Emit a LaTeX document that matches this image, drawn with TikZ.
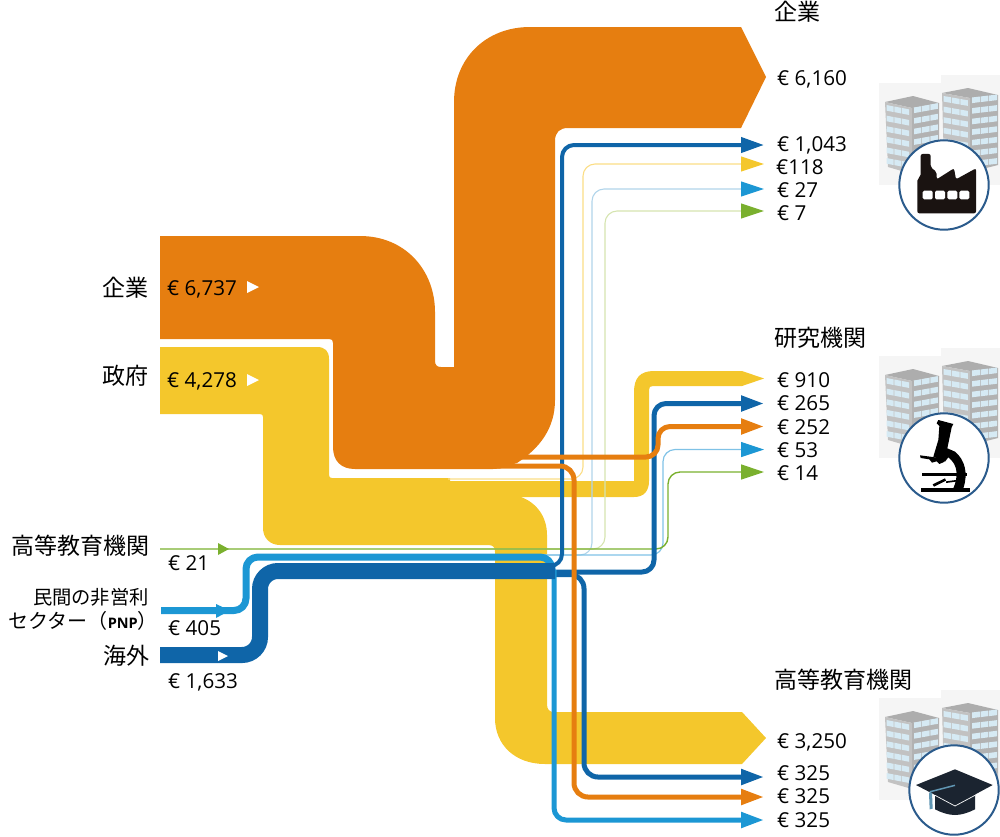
\documentclass[tikz,border=0pt]{standalone}
\usepackage{fontspec}
\setmainfont{Open Sans}
\newfontfamily\cjk{Noto Sans CJK JP}
\usetikzlibrary{arrows.meta}
\definecolor{cOrange}{HTML}{E67E10}
\definecolor{cYellow}{HTML}{F4C72C}
\definecolor{cDark}{HTML}{0F65A8}
\definecolor{cLight}{HTML}{1C97D4}
\definecolor{cGreen}{HTML}{7AB02E}
\definecolor{paleYellow}{HTML}{FBDD85}
\definecolor{paleBlue}{HTML}{B0D4EA}
\definecolor{paleGreen}{HTML}{D5E4AF}
\definecolor{midBlue}{HTML}{7FC2E6}
\definecolor{ring}{HTML}{2B5B8C}
\definecolor{capInk}{HTML}{1B2430}
\definecolor{factInk}{HTML}{1A1311}
\definecolor{winBlue}{HTML}{D6EAF4}
\definecolor{bldFront}{HTML}{C2C2C2}
\definecolor{bldRoof}{HTML}{ADADAD}
\tikzset{
  val/.style={anchor=base west,yshift=-7.5pt,inner sep=0pt,font=\fontsize{20.6}{23}\selectfont,text=black},
  jpl/.style={anchor=east,inner sep=0pt,font=\cjk\fontsize{23}{25}\selectfont,text=black},
  jpr/.style={anchor=west,inner sep=0pt,font=\cjk\fontsize{23}{25}\selectfont,text=black},
  jps/.style={anchor=east,inner sep=0pt,font=\cjk\fontsize{19.3}{21}\selectfont,text=black},
  flow/.style={line join=round,rounded corners=#1},
  head/.style={-{Triangle[length=23pt,width=15pt,color=#1]}},
  iconring/.style={draw=ring,line width=2pt,fill=white},
  pics/bldg/.style={code={
    \fill[black!4] (879,83) rectangle (942,185);
    \fill[black!4] (941,75) rectangle (1000,185);
    % left building
    \fill[bldRoof] (885,102)--(913,96)--(939,103)--(912,108)--cycle;
    \fill[bldFront] (885,102)--(912,108)--(912,174)--(888,167)--cycle;
    \fill[bldFront!92!black] (912,108)--(939,103)--(939,168)--(912,174)--cycle;
    \foreach \r in {0,...,5}{
      \foreach \c in {0,1,2}{
        \fill[winBlue] ({886.5+\c*7.8},{105+\r*10.6+\c*1.5}) -- ++(7,1.4) -- ++(0,5.6) -- ++(-7,-1.4) -- cycle;
        \fill[winBlue] ({914+\c*8.2},{107.5+\r*10.6-\c*1.5}) -- ++(7.4,-1.3) -- ++(0,5.6) -- ++(-7.4,1.3) -- cycle;
      }
    }
    % right building
    \fill[bldRoof] (942,93)--(968,88)--(998,95)--(970,98)--cycle;
    \fill[bldFront] (942,93)--(970,98)--(970,172)--(944,165)--cycle;
    \fill[bldFront!92!black] (970,98)--(998,95)--(998,165)--(970,172)--cycle;
    \foreach \r in {0,...,6}{
      \foreach \c in {0,1,2}{
        \fill[winBlue] ({943.5+\c*8.4},{96+\r*10.6+\c*1.5}) -- ++(7.6,1.3) -- ++(0,5.6) -- ++(-7.6,-1.3) -- cycle;
        \fill[winBlue] ({972+\c*8.6},{97.5+\r*10.6-\c*1}) -- ++(7.8,-1) -- ++(0,5.6) -- ++(-7.8,1) -- cycle;
      }
    }
  }}
}
\begin{document}
\begin{tikzpicture}[x=1pt,y=-1pt]
\useasboundingbox (0,0) rectangle (1000,836);

% ---- named ports
\coordinate (sBiz)  at (160,287);
\coordinate (sGov)  at (160,380);
\coordinate (sHE)   at (160,549);
\coordinate (sPNP)  at (161,610.5);
\coordinate (sFor)  at (160,655);
\coordinate (eBizD) at (764,145);
\coordinate (eBizY) at (764,164);
\coordinate (eBizL) at (764,189);
\coordinate (eBizG) at (764,211);
\coordinate (eResD) at (764,403.5);
\coordinate (eResO) at (764,426.5);
\coordinate (eResL) at (764,449.5);
\coordinate (eResG) at (764,472);
\coordinate (eHeD)  at (764,777);
\coordinate (eHeO)  at (764,797);
\coordinate (eHeL)  at (764,820);

% ---- main yellow flow
\fill[cYellow]
  (160,347) -- (317,347) .. controls (325,347) and (329,351) .. (329,359)
  -- (329,475) .. controls (329,477) and (330,478) .. (332,478)
  -- (450,478) -- (450,497) -- (521,497)
  .. controls (537,503) and (547,517) .. (547,535)
  -- (547,704) .. controls (547,709) and (549,712) .. (554,712)
  -- (742,712) -- (766,738) -- (742,764) -- (545,764)
  .. controls (515,764) and (495,745) .. (495,718)
  -- (495,552) .. controls (495,547) and (493,545) .. (488,545)
  -- (280,545) .. controls (270,545) and (263,538) .. (263,528)
  -- (263,417) .. controls (263,415) and (262,414) .. (260,414)
  -- (160,414) -- cycle;
% yellow branch to research institutes
\fill[cYellow]
  (440,481) -- (634,481) -- (634,392) .. controls (634,378) and (640,371) .. (654,371)
  -- (742,371) -- (764,378.5) -- (742,386) -- (653,386)
  .. controls (650,386) and (649,387) .. (649,390)
  -- (649,481) .. controls (649,491) and (644,497) .. (634,497)
  -- (440,497) -- cycle;

% ---- main orange flow
\fill[cOrange]
  (160,236) -- (360,236) .. controls (405,236) and (435,270) .. (435,312)
  -- (435,361) .. controls (435,365) and (437,367) .. (441,367)
  -- (454,367) -- (454,102) .. controls (454,58) and (486,27) .. (530,27)
  -- (741,27) -- (766,77) -- (741,128) -- (568,128)
  .. controls (560,128) and (555,132) .. (555,141)
  -- (555,400) .. controls (555,428) and (540,448) .. (517,463)
  -- (500,468.5) -- (493,469) -- (355,469) .. controls (341,469) and (333,461) .. (333,447)
  -- (333,343) .. controls (333,340) and (332,339) .. (329,339)
  -- (160,339) -- cycle;

% ---- thin pale connectors
\draw[paleYellow,line width=1.1pt,flow=12pt,head=cYellow] (448,479) -- (583,479) -- (583,164) -- (eBizY);
\draw[paleBlue,line width=1.1pt,flow=12pt,head=cLight] (540,555) -- (592,555) -- (592,189) -- (eBizL);
\draw[paleGreen,line width=1.1pt,flow=12pt,head=cGreen] (450,549) -- (605,549) -- (605,211) -- (eBizG);
\draw[midBlue,line width=1.2pt,flow=12pt,head=cLight] (540,555) -- (663,555) -- (663,449.5) -- (eResL);
\draw[cGreen,line width=1.4pt,flow=12pt,head=cGreen] (sHE) -- (668,549) -- (668,472) -- (eResG);
\fill[cGreen] (218,543) -- (229,549) -- (218,555) -- cycle;

% ---- dark blue flows
\draw[cDark,line width=4pt,flow=12pt,head=cDark] (545,566) -- (562,566) -- (562,145) -- (eBizD);
\draw[cDark,line width=5pt,flow=12pt,head=cDark] (545,572) -- (654,572) -- (654,403.5) -- (eResD);
\draw[cDark,line width=5pt,flow=14pt,head=cDark] (545,574.5) -- (584,574.5) -- (584,777) -- (eHeD);

% ---- light blue flow
\draw[cLight,line width=7pt,flow=12pt] (sPNP) -- (246,610.5) -- (246,557) -- (552,557) -- (552,578);
\draw[cLight,line width=5pt,flow=12pt,head=cLight] (554,570) -- (554,820) -- (eHeL);
\fill[cLight] (216,604) -- (230,610.5) -- (216,618) -- cycle;

% ---- thick dark blue
\draw[cDark,line width=16pt,flow=18pt,line join=miter] (sFor) -- (260,655) -- (260,571) -- (555,571);

% ---- orange strands
\draw[cOrange,line width=5pt,flow=12pt,head=cOrange] (515,457) -- (658,457) -- (658,426.5) -- (eResO);
\draw[cOrange,line width=5pt,flow=14pt,head=cOrange] (495,466) -- (574,466) -- (574,797) -- (eHeO);

% ---- white marks on bands
\fill[white] (247,281) -- (259,287) -- (247,293) -- cycle;
\fill[white] (247,374) -- (259,380) -- (247,386) -- cycle;
\fill[white] (218,651) -- (228,656) -- (218,661) -- cycle;

% ---- left labels
\node[jpl] (lBiz) at (149,288) {企業};
\node[jpl] (lGov) at (149,376) {政府};
\node[jpl] (lHE)  at (150,546) {高等教育機関};
\node[jps] (lPNP1) at (149,597) {民間の非営利};
\node[jps,font=\cjk\fontsize{20}{22}\selectfont] (lPNP2) at (158,621) {セクター（{\rmfamily\bfseries\fontsize{14.5}{16}\selectfont PNP}）};
\node[jpl] (lFor) at (150,656) {海外};
\node[val] (vBiz) at (167,288) {€ 6,737};
\node[val] (vGov) at (167,380) {€ 4,278};
\node[val] (vHE)  at (168,563) {€ 21};
\node[val] (vPNP) at (168,628) {€ 405};
\node[val] (vFor) at (168,681) {€ 1,633};

% ---- right labels
\node[jpr] (rBiz) at (774,12) {企業};
\node[val] (v1) at (777,78) {€ 6,160};
\node[val] (v2) at (777,144) {€ 1,043};
\node[val] (v3) at (776,167) {€118};
\node[val] (v4) at (777,190) {€ 27};
\node[val] (v5) at (777,213) {€ 7};
\node[jpr] (rRes) at (774,338) {研究機関};
\node[val] (v6) at (777,380) {€ 910};
\node[val] (v7) at (777,403) {€ 265};
\node[val] (v8) at (777,427) {€ 252};
\node[val] (v9) at (777,450) {€ 53};
\node[val] (v10) at (777,473) {€ 14};
\node[jpr] (rHE) at (774,680) {高等教育機関};
\node[val] (v11) at (777,741) {€ 3,250};
\node[val] (v12) at (777,773) {€ 325};
\node[val] (v13) at (777,796) {€ 325};
\node[val] (v14) at (777,820) {€ 325};

% ---- icons
\pic at (0,0) {bldg};
\pic at (0,273) {bldg};
\pic at (0,615) {bldg};

% factory
\draw[iconring] (944,185) circle (44.7);
\begin{scope}[shift={(870,70)},x=0.3333pt,y=-0.3333pt]
  \fill[factInk,rounded corners=2pt] (142,430) -- (142,326) -- (152,320) -- (152,252) -- (182,252) -- (182,292) -- (200,306) -- (200,328) -- (252,295) -- (258,328) -- (318,295) -- (318,430) -- cycle;
  \foreach \a in {158,195,232,268}
    \fill[white,rounded corners=1.5pt] (\a,362) rectangle ++(30,26);
\end{scope}

% microscope
\draw[iconring] (944,458) circle (44.7);
\begin{scope}[shift={(870,340)},x=0.3333pt,y=-0.3333pt]
  \fill[black] (205,240) -- (250,252) -- (245,262) -- (232,325) -- (255,335) .. controls (285,360) and (295,400) .. (280,445) -- (250,445) .. controls (265,410) and (265,375) .. (235,352) -- (225,365) -- (190,350) -- (205,300) -- (208,258) -- (200,250) -- cycle;
  \fill[black] (150,346) -- (225,356) -- (222,366) -- (208,372) -- (200,364) -- (186,368) -- (178,358) -- (152,354) -- cycle;
  \fill[black] (155,398) rectangle (262,408);
  \fill[black] (152,445) rectangle (300,455);
  \fill[black] (188,433) -- (225,415) -- (228,422) -- (192,440) -- cycle;
  \fill[black] (262,398) rectangle (290,408);
  \fill[black] (228,424) -- (258,420) -- (258,425) -- (228,429) -- cycle;
\end{scope}

% mortarboard
\draw[iconring] (954,790) circle (44.7);
\begin{scope}[shift={(870,680)},x=0.3333pt,y=-0.3333pt]
  \fill[capInk] (195,340) -- (315,340) -- (315,388) .. controls (295,398) and (275,405) .. (255,405) .. controls (235,405) and (215,398) .. (195,388) -- cycle;
  \fill[capInk] (255,268) -- (368,315) -- (255,376) -- (138,315) -- cycle;
  \draw[white,line width=0.7pt] (195,346) -- (255,378) -- (315,346);
  \draw[cLight!60!capInk!70!white,line width=1.5pt] (255,316) -- (181,335) -- (181,350);
  \fill[cLight!60!capInk!70!white] (177,340) -- (186,338) -- (188,386) -- (179,388) -- cycle;
\end{scope}
\end{tikzpicture}
\end{document}
